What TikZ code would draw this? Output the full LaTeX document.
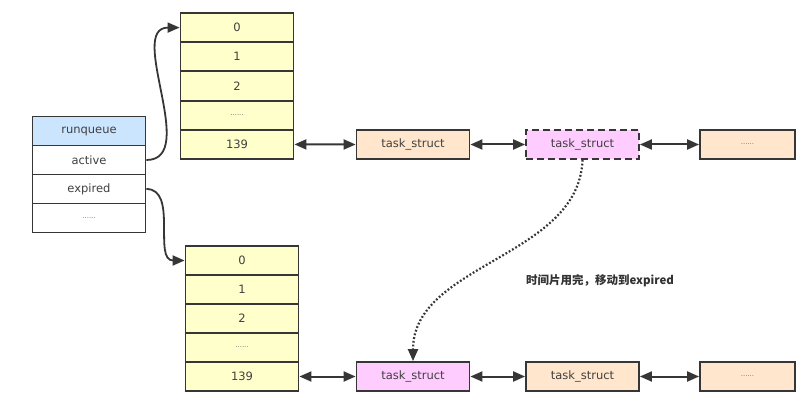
\documentclass[tikz,border=0pt]{standalone}
\usepackage{fontspec}
\setmainfont{DejaVu Sans}
\newfontfamily\cjk{Noto Sans CJK SC}
\usetikzlibrary{arrows.meta}

\definecolor{rqblue}{HTML}{CCE5FF}
\definecolor{slotyellow}{HTML}{FFFFCC}
\definecolor{taskpeach}{HTML}{FFE6CC}
\definecolor{taskpink}{HTML}{FFCCFF}
\definecolor{edge}{HTML}{363636}

\newcommand{\slotdots}{{\color{black!55}\fontsize{7}{7}\selectfont......}}

\tikzset{
    cell/.style={draw=edge, line width=1.8pt, minimum width=113pt, minimum height=29pt,
        inner sep=0pt, text=black!75, font=\fontsize{11.5}{13}\selectfont},
    slot/.style={cell, fill=slotyellow},
    task/.style={cell, fill=taskpeach},
    link/.style={draw=edge, line width=2pt, {Triangle[length=12pt,width=10pt]}-{Triangle[length=12pt,width=10pt]}},
    jump/.style={draw=edge, line width=1.8pt, -{Triangle[length=12pt,width=10pt]}},
}

\begin{document}
\begin{tikzpicture}[x=1pt, y=-1pt]
    \useasboundingbox[fill=white] (0, 0) rectangle (810, 419);

    % runqueue
    \node[cell, fill=rqblue] (rq) at (89, 131) {runqueue};
    \node[cell, fill=white] (active) at (89, 160) {active};
    \node[cell, fill=white] (expired) at (89, 189) {expired};
    \node[cell, fill=white] (rqmore) at (89, 218) {\slotdots};

    % active array
    \foreach \lbl [count=\i from 0] in {0, 1, 2, \slotdots, 139}
        \node[slot] (act\i) at (237, 27.6 + 29.2*\i) {\lbl};

    % expired array
    \foreach \lbl [count=\i from 0] in {0, 1, 2, \slotdots, 139}
        \node[slot] (exp\i) at (242, 260.5 + 29*\i) {\lbl};

    % task lists
    \node[task] (ta) at (413, 144.5) {task\_struct};
    \node[task, fill=taskpink, dash pattern=on 7pt off 4pt] (tb) at (582.5, 144.5) {task\_struct};
    \node[task, minimum width=95pt] (tc) at (747.5, 144.5) {\slotdots};
    \node[task, fill=taskpink] (ea) at (413, 376.5) {task\_struct};
    \node[task] (eb) at (582.5, 376.5) {task\_struct};
    \node[task, minimum width=95pt] (ec) at (747.5, 376.5) {\slotdots};

    \draw[jump] (active.east) to[out=0, in=180] (act0.west);
    \draw[jump] (expired.east) to[out=0, in=180] (exp0.west);

    \draw[link] (act4.east) -- (ta.west);
    \draw[link] (ta) -- (tb);
    \draw[link] (tb) -- (tc);
    \draw[link] (exp4.east) -- (ea.west);
    \draw[link] (ea) -- (eb);
    \draw[link] (eb) -- (ec);

    \draw[jump, dotted, line width=2.2pt] (tb.south) to[out=-92, in=90, looseness=0.95] (ea.north);
    \node[text=black!80, font=\cjk\bfseries\fontsize{11.5}{13}\selectfont] (note) at (600, 281) {时间片用完，移动到expired};
\end{tikzpicture}
\end{document}
